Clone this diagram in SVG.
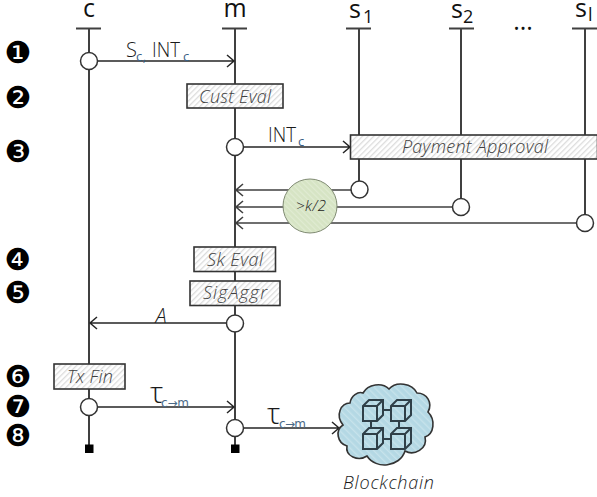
<svg xmlns="http://www.w3.org/2000/svg" width="597" height="497" viewBox="0 0 597 497">
<style>
.l{stroke:#404040;stroke-width:2;fill:none}
.t{stroke:#404040;stroke-width:1.6;fill:none}
.a{stroke:#262626;stroke-width:1.5;fill:none}
.o{fill:#fff;stroke:#333;stroke-width:1.5}
.b{fill:url(#h);stroke:#333;stroke-width:1.6}
text{font-family:"Open Sans","Liberation Sans",sans-serif;font-weight:300;fill:#1a1a1a}
.i{font-style:italic;font-size:18px;text-anchor:middle;fill:#404040}
.h{font-size:25px;text-anchor:middle;font-weight:400;fill:#111}
.h2{font-size:18px;font-weight:400;fill:#111}
.m{font-size:20px}
.s{font-size:13px;fill:#3a5f85;font-weight:400}
.r{font-family:"DejaVu Sans",sans-serif;font-size:12px;fill:#4a6a88;font-weight:400}
.u{font-size:30px;font-weight:300}
.n{font-family:"DejaVu Sans",sans-serif;font-size:30px;text-anchor:middle;fill:#000;font-weight:400}
</style>
<defs>
<pattern id="h" width="4" height="4" patternUnits="userSpaceOnUse" patternTransform="rotate(45)"><rect width="4" height="4" fill="#fff"/><rect width="1.3" height="4" fill="#dcdcdc"/></pattern>
<pattern id="g" width="4" height="4" patternUnits="userSpaceOnUse" patternTransform="rotate(-45)"><rect width="4" height="4" fill="#d6e4c4"/><rect width="1.2" height="4" fill="#e0ebd2"/></pattern>
<pattern id="u" width="5" height="5" patternUnits="userSpaceOnUse" patternTransform="rotate(-45)"><rect width="5" height="5" fill="#b4d8e4"/><rect width="1.4" height="5" fill="#c6e2eb"/></pattern>
</defs>
<g id="connectors">
<path class="l" d="M89 28V449M235 28V449M359 28V189M461 28V207M585 28V223"/>
<path class="l" d="M76 28.500H101M222 28.500H247M346 28.500H371M449 28.500H474M572 28.500H597"/>
<path class="a" d="M89 61H234M227 55l7 6-7 6"/>
<path class="a" d="M235 147H350M343 141l7 6-7 6"/>
<path class="t" d="M359 190H236M243 184l-7 6 7 6"/>
<path class="t" d="M461 207H236M243 201l-7 6 7 6"/>
<path class="t" d="M585 223H236M243 217l-7 6 7 6"/>
<path class="a" d="M235 323H90M97 317l-7 6 7 6"/>
<path class="a" d="M89 407H234M227 401l7 6-7 6"/>
<path class="a" d="M235 428H339M332 422l7 6-7 6"/>
</g>
<g id="lifeline-labels">
<text class="h" x="89" y="17">c</text>
<text class="h" x="235" y="17">m</text>
<text class="h" x="355" y="18">s</text><text class="h2" x="363" y="23">1</text>
<text class="h" x="457" y="18">s</text><text class="h2" x="463" y="23">2</text>
<text class="h" x="581" y="17">s</text><text class="h2" x="588" y="21" font-size="14">l</text>
<text class="h" x="523" y="30" font-size="22">...</text>
</g>
<g id="steps">
<text class="n" x="18" y="63">❶</text>
<text class="n" x="18" y="108">❷</text>
<text class="n" x="18" y="162">❸</text>
<text class="n" x="18" y="270">❹</text>
<text class="n" x="18" y="303">❺</text>
<text class="n" x="18" y="387">❻</text>
<text class="n" x="18" y="417">❼</text>
<text class="n" x="18" y="446">❽</text>
</g>
<g id="msg-labels">
<text class="m" x="126" y="57">S</text><text class="s" x="136" y="61" textLength="10">c,</text><text class="m" x="152" y="57" textLength="28" lengthAdjust="spacingAndGlyphs">INT</text><text class="s" x="183" y="61">c</text>
<text class="m" x="268" y="142" textLength="28" lengthAdjust="spacingAndGlyphs">INT</text><text class="s" x="298" y="146">c</text>
<text x="161" y="323" font-size="20" font-style="italic" text-anchor="middle">A</text>
<text class="u" x="150" y="403">τ</text><text class="r" x="161" y="407" textLength="28">c→m</text>
<text class="u" x="267" y="424">τ</text><text class="r" x="279" y="428" textLength="27">c→m</text>
</g>
<g id="sender-c"><circle class="o" cx="89" cy="61" r="8.500"/></g>
<g id="merchant-send"><circle class="o" cx="235" cy="147" r="8.500"/></g>
<g id="cust-eval"><rect class="b" x="187" y="84" width="96" height="24"/><text class="i" x="235" y="103" textLength="72">Cust Eval</text></g>
<g id="payment-approval"><rect class="b" x="350.500" y="135" width="247" height="24"/><text class="i" x="475" y="153" textLength="146">Payment Approval</text></g>
<g id="s1-node"><circle class="o" cx="359.500" cy="189.500" r="8.500"/></g>
<g id="s2-node"><circle class="o" cx="461" cy="207" r="8.500"/></g>
<g id="sl-node"><circle class="o" cx="585" cy="223" r="8.500"/></g>
<g id="threshold"><circle cx="310" cy="206" r="27" fill="url(#g)" stroke="#7f8a72" stroke-width="1"/><text x="311" y="211" font-size="15" font-style="italic" text-anchor="middle" fill="#333" textLength="30">&gt;k/2</text></g>
<g id="sk-eval"><rect class="b" x="194" y="247" width="81.500" height="24.500"/><text class="i" x="235" y="265.500" textLength="56">Sk Eval</text></g>
<g id="sig-aggr"><rect class="b" x="190" y="281" width="90" height="24.500"/><text class="i" x="235" y="299" textLength="64">SigAggr</text></g>
<g id="merchant-a"><circle class="o" cx="235" cy="323.500" r="8.500"/></g>
<g id="tx-fin"><rect class="b" x="54" y="364" width="71" height="25"/><text class="i" x="90" y="383" textLength="46">Tx Fin</text></g>
<g id="c-send"><circle class="o" cx="89" cy="407" r="8.500"/></g>
<g id="m-send"><circle class="o" cx="235" cy="428" r="8.500"/></g>
<g id="end-c"><rect x="85" y="444.500" width="8.500" height="8.500" fill="#000"/></g>
<g id="end-m"><rect x="231" y="444.500" width="8.500" height="8.500" fill="#000"/></g>
<g id="blockchain">
<path d="M363 393C368 384 382 382 389 389C396 381 412 383 417 393C427 393 433 403 428 412C436 420 434 434 425 437C428 449 414 456 405 451C400 467 376 470 367 456C358 462 345 456 347 446C337 443 335 430 343 425C335 415 341 403 350 403C351 396 358 391 363 393Z" fill="url(#u)" stroke="#333" stroke-width="1.600"/>
<g fill="none" stroke="#2f3f48" stroke-width="2">
<path d="M363 406l6-6h14v15l-6 6h-14zM363 406h14v15M377 406l6-6"/>
<path d="M391 406l6-6h14v15l-6 6h-14zM391 406h14v15M405 406l6-6"/>
<path d="M363 434l6-6h14v15l-6 6h-14zM363 434h14v15M377 434l6-6"/>
<path d="M391 434l6-6h14v15l-6 6h-14zM391 434h14v15M405 434l6-6"/>
<path d="M383 410h8M383 439h8M371 421v7M399 421v7"/>
</g>
<text x="388.500" y="489" font-size="18" font-style="italic" text-anchor="middle" fill="#404040" textLength="91">Blockchain</text>
</g>
</svg>
